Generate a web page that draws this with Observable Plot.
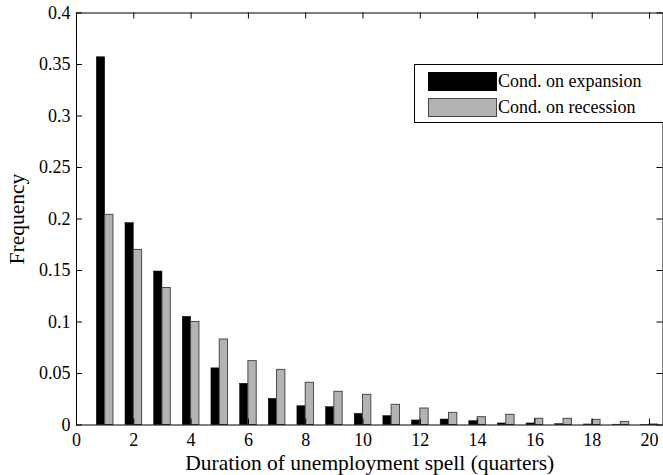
<!DOCTYPE html>
<html>
<head>
<meta charset="utf-8">
<script src="https://cdn.jsdelivr.net/npm/d3@7"></script>
<script src="https://cdn.jsdelivr.net/npm/@observablehq/plot@0.6"></script>
<style>
  html, body { margin: 0; padding: 0; background: #fff; }
  #wrap { position: relative; width: 663px; height: 475px; overflow: hidden; font-family: "Liberation Serif", "Times New Roman", serif; }
  #legend { position: absolute; left: 414px; top: 64px; width: 270px; height: 59px; border: 1px solid #000; background: #fff; box-sizing: border-box; }
  .sw { position: absolute; left: 13px; width: 69px; height: 19px; box-sizing: border-box; }
  .lt { position: absolute; left: 83px; font-family: "Liberation Serif", "Times New Roman", serif; font-size: 18px; line-height: 19px; white-space: nowrap; color: #000; }
</style>
</head>
<body>
<div id="wrap"></div>
<script>
// Data
const quarters = [1,2,3,4,5,6,7,8,9,10,11,12,13,14,15,16,17,18,19,20];
const expansion = [0.357,0.196,0.149,0.105,0.055,0.040,0.0254,0.0182,0.0173,0.0109,0.0086,0.0044,0.0053,0.0037,0.0015,0.0015,0.0008,0.0005,0.0003,0.0002];
const recession = [0.204,0.170,0.133,0.100,0.083,0.062,0.0535,0.041,0.0322,0.0293,0.0196,0.016,0.0118,0.0076,0.0099,0.006,0.006,0.005,0.003,0.0005];
const seriesNames = ["Cond. on expansion", "Cond. on recession"];
const xTicks = [0,2,4,6,8,10,12,14,16,18,20];
const yTicks = [0,0.05,0.1,0.15,0.2,0.25,0.3,0.35,0.4];
const xLabel = "Duration of unemployment spell (quarters)";
const yLabel = "Frequency";

const FONT = "Liberation Serif, Times New Roman, serif";
const W = 663, H = 475;
const mL = 76, mR = 0.5, mT = 12.5, mB = 50.5;
const plotW = W - mL - mR, plotH = H - mT - mB;
const barW = 0.29, tickLen = 6;

const expData = quarters.map((q, i) => ({q, v: expansion[i]}));
const recData = quarters.map((q, i) => ({q, v: recession[i]}));

const chart = Plot.plot({
  width: W, height: H,
  marginLeft: mL, marginRight: mR, marginTop: mT, marginBottom: mB,
  style: {fontFamily: FONT, fontSize: "18px", background: "transparent", color: "#000"},
  x: {domain: [0, 20.47], label: null},
  y: {domain: [0, 0.4], label: null},
  marks: [
    Plot.rect(expData, {x1: d => d.q - barW, x2: d => d.q, y1: 0, y2: "v", fill: "#000", stroke: "#000", strokeWidth: 0.5}),
    Plot.rect(recData, {x1: d => d.q, x2: d => d.q + barW, y1: 0, y2: "v", fill: "#b3b3b3", stroke: "#4a4a4a", strokeWidth: 1}),
    Plot.frame({stroke: "#000", strokeWidth: 1}),
    // inward ticks on all four sides
    Plot.tickY(yTicks, {y: d => d, insetRight: plotW - tickLen, stroke: "#000"}),
    Plot.tickY(yTicks, {y: d => d, insetLeft: plotW - tickLen, stroke: "#000"}),
    Plot.tickX(xTicks, {x: d => d, insetBottom: plotH - tickLen, stroke: "#000"}),
    Plot.tickX(xTicks, {x: d => d, insetTop: plotH - tickLen, stroke: "#000"}),
    Plot.axisX({ticks: xTicks, tickSize: 0, tickPadding: 8, tickFormat: d => String(d), fontSize: 18, fontFamily: FONT}),
    Plot.axisY({ticks: yTicks, tickSize: 0, tickPadding: 6, tickFormat: d => String(d), fontSize: 18, fontFamily: FONT}),
    Plot.text([xLabel], {text: d => d, frameAnchor: "bottom", dy: 38, fontSize: 21.5, fontFamily: FONT, lineAnchor: "middle"}),
    Plot.text([yLabel], {text: d => d, frameAnchor: "left", dx: -59, rotate: -90, fontSize: 21.5, fontFamily: FONT, lineAnchor: "middle", textAnchor: "middle"})
  ]
});
const wrap = document.getElementById("wrap");
wrap.appendChild(chart);

// Legend box inside the plot
const legend = document.createElement("div");
legend.id = "legend";
const fills = ["#000", "#b3b3b3"];
const borders = ["#000", "#4a4a4a"];
seriesNames.forEach((name, i) => {
  const sw = document.createElement("div");
  sw.className = "sw";
  sw.style.top = (6.5 + i * 26) + "px";
  sw.style.background = fills[i];
  sw.style.border = "1px solid " + borders[i];
  legend.appendChild(sw);
  const t = document.createElement("div");
  t.className = "lt";
  t.style.top = (7 + i * 26) + "px";
  t.textContent = name;
  legend.appendChild(t);
});
wrap.appendChild(legend);
</script>
</body>
</html>
